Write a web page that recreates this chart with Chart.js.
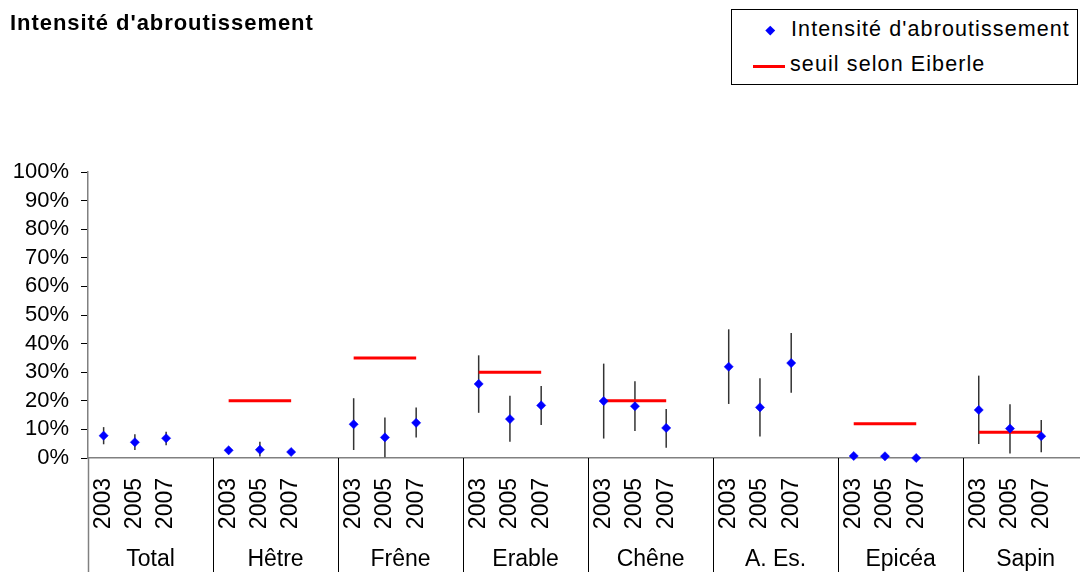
<!DOCTYPE html>
<html>
<head>
<meta charset="utf-8">
<script src="https://cdn.jsdelivr.net/npm/chart.js@4"></script>
<style>
  html, body { margin: 0; padding: 0; background: #fff; overflow: hidden; }
  #wrap { position: relative; width: 1080px; height: 572px; font-family: 'Liberation Sans', Arial, sans-serif; color: #000; }
  #chart { position: absolute; left: 0; top: 0; }
  #title { position: absolute; left: 10px; top: 11px; font-weight: bold; font-size: 22px; line-height: 24px; letter-spacing: 0.95px; white-space: nowrap; }
  #legend { position: absolute; left: 731px; top: 9px; width: 347px; height: 76px; box-sizing: border-box; border: 1px solid #000; background: #fff; }
  .lg-text { position: absolute; font-size: 21.5px; line-height: 24px; letter-spacing: 1.1px; white-space: nowrap; }
  .lg-diamond { position: absolute; width: 6.5px; height: 6.5px; transform: rotate(45deg); }
  .lg-line { position: absolute; height: 3px; }
</style>
</head>
<body>
<div id="wrap">
  <canvas id="chart" width="1080" height="572"></canvas>
  <div id="title">Intensité d'abroutissement</div>
  <div id="legend"></div>
</div>
<script>
// ---- data ----
const years = ['2003', '2005', '2007'];
const groups = ['Total', 'Hêtre', 'Frêne', 'Erable', 'Chêne', 'A. Es.', 'Epicéa', 'Sapin'];
// intensity (%) per group, per year
const intensity = [7.8, 5.5, 6.9,  2.7, 2.9, 2.1,  11.8, 7.2, 12.3,  25.9, 13.6, 18.4,
                   19.9, 18.1, 10.5,  31.9, 17.7, 33.2,  0.7, 0.6, 0.0,  16.8, 10.3, 7.6];
// error bar bounds (%)
const errLow  = [4.8, 2.8, 4.5,  2.0, 0.5, 1.5,  2.8, 0.3, 7.2,  15.8, 5.7, 11.5,
                 6.8, 9.4, 3.6,  18.9, 7.5, 22.8,  0.3, 0.3, 0.0,  4.9, 1.6, 2.0];
const errHigh = [10.8, 8.3, 9.2,  3.5, 5.7, 2.8,  20.9, 14.2, 17.7,  35.9, 21.8, 25.2,
                 33.0, 26.8, 17.1,  45.0, 27.9, 43.7,  1.1, 1.0, 0.3,  28.8, 18.8, 13.3];
// threshold according to Eiberle (%), per group (null = none)
const threshold = [null, 20, 35, 30, 20, null, 12, 9];
// y tick values
const yTicks = [0, 10, 20, 30, 40, 50, 60, 70, 80, 90, 100];

// ---- derived structures ----
const SLOTS = years.length + 1;           // 3 years + 1 empty gap per group
const slotOf = i => Math.floor(i / years.length) * SLOTS + (i % years.length);
const slotLabels = {};
const slotTicks = [];
groups.forEach((g, gi) => years.forEach((yr, yi) => {
  slotLabels[gi * SLOTS + yi] = yr;
  slotTicks.push(gi * SLOTS + yi);
}));
const xMin = -0.5;
const xMax = 31.24;   // the plot runs past the right edge of the picture

const pointsData = intensity.map((v, i) => ({ x: slotOf(i), y: v }));
const thresholdData = [];
threshold.forEach((t, gi) => {
  if (t === null) return;
  years.forEach((yr, yi) => thresholdData.push({ x: gi * SLOTS + yi, y: t }));
  thresholdData.push({ x: gi * SLOTS + years.length, y: null });
});

const FONT = "'Liberation Sans', Arial, sans-serif";

const errorBars = {
  id: 'errorBars',
  beforeDatasetsDraw(chart) {
    const { ctx, scales: { x, y } } = chart;
    ctx.save();
    ctx.strokeStyle = '#333';
    ctx.lineWidth = 1.5;
    intensity.forEach((v, i) => {
      const px = x.getPixelForValue(slotOf(i));
      ctx.beginPath();
      ctx.moveTo(px, y.getPixelForValue(errHigh[i]));
      ctx.lineTo(px, y.getPixelForValue(errLow[i]));
      ctx.stroke();
    });
    ctx.restore();
  }
};

const separators = {
  id: 'separators',
  afterDraw(chart) {
    const { ctx, chartArea, scales: { x } } = chart;
    ctx.save();
    groups.forEach((g, gi) => {
      const px = Math.round(x.getPixelForValue(gi * SLOTS - 0.5)) + 0.5;
      ctx.strokeStyle = gi === 0 ? '#808080' : '#000';
      ctx.lineWidth = gi === 0 ? 1.5 : 1;
      ctx.beginPath();
      ctx.moveTo(px, chartArea.bottom);
      ctx.lineTo(px, chart.height);
      ctx.stroke();
    });
    ctx.restore();
  }
};

const noSidePadding = s => { s.paddingLeft = 0; s.paddingRight = 0; };

const chart = new Chart(document.getElementById('chart'), {
  type: 'line',
  data: {
    datasets: [
      {
        label: "Intensité d'abroutissement",
        data: pointsData,
        showLine: false,
        pointStyle: 'rectRot',
        pointRadius: 4.6,
        pointBorderWidth: 0.5,
        pointBackgroundColor: '#0000FF',
        pointBorderColor: '#0000FF',
        backgroundColor: '#0000FF',
        borderColor: '#0000FF',
        clip: false,
        order: 0
      },
      {
        label: 'seuil selon Eiberle',
        data: thresholdData,
        borderColor: '#FF0000',
        backgroundColor: '#FF0000',
        borderWidth: 3,
        pointRadius: 0,
        spanGaps: false,
        fill: false,
        borderCapStyle: 'butt',
        order: 1
      }
    ]
  },
  options: {
    responsive: false,
    animation: false,
    layout: { autoPadding: false, padding: { top: 172, left: 0, right: 0, bottom: 0 } },
    plugins: { legend: { display: false }, title: { display: false }, tooltip: { enabled: false } },
    scales: {
      x: {
        type: 'linear', position: 'bottom', min: xMin, max: xMax, bounds: 'data', weight: 0,
        afterBuildTicks: s => { s.ticks = slotTicks.map(v => ({ value: v })); },
        afterFit: s => { s.height = 80; noSidePadding(s); },
        ticks: {
          autoSkip: false, maxRotation: 90, minRotation: 90, padding: 20, color: '#000',
          font: { family: FONT, size: 23 },
          callback: v => slotLabels[v] ?? ''
        },
        grid: { display: false, drawTicks: false },
        border: { display: true, color: '#808080', width: 1.5 }
      },
      x2: {
        type: 'linear', position: 'bottom', min: xMin, max: xMax, bounds: 'data', weight: 1,
        afterBuildTicks: s => { s.ticks = groups.map((g, gi) => ({ value: gi * SLOTS + 1.5 })); },
        afterFit: s => { s.height = 34; noSidePadding(s); },
        ticks: {
          autoSkip: false, maxRotation: 0, minRotation: 0, padding: 8, color: '#000',
          font: { family: FONT, size: 23 },
          callback: (v, i) => groups[i]
        },
        grid: { display: false, drawTicks: false },
        border: { display: false }
      },
      y: {
        type: 'linear', position: 'left', min: 0, max: 100,
        afterBuildTicks: s => { s.ticks = yTicks.map(v => ({ value: v })); },
        afterFit: s => { s.width = 88; },
        ticks: {
          autoSkip: false, padding: 12, color: '#000', font: { family: FONT, size: 22 },
          callback: v => v + '%'
        },
        grid: { drawOnChartArea: false, drawTicks: true, tickLength: 7, color: '#000', lineWidth: 1 },
        border: { display: true, color: '#808080', width: 1.5 }
      }
    }
  },
  plugins: [errorBars, separators]
});

// ---- legend (HTML, built from the datasets) ----
const legend = document.getElementById('legend');
const ds = chart.data.datasets;
legend.innerHTML =
  `<div class="lg-diamond" style="left:34.75px;top:16.75px;background:${ds[0].pointBackgroundColor}"></div>` +
  `<div class="lg-text" style="left:59px;top:7px">${ds[0].label}</div>` +
  `<div class="lg-line" style="left:21px;top:54.5px;width:32px;background:${ds[1].borderColor}"></div>` +
  `<div class="lg-text" style="left:58px;top:42px">${ds[1].label}</div>`;
</script>
</body>
</html>
